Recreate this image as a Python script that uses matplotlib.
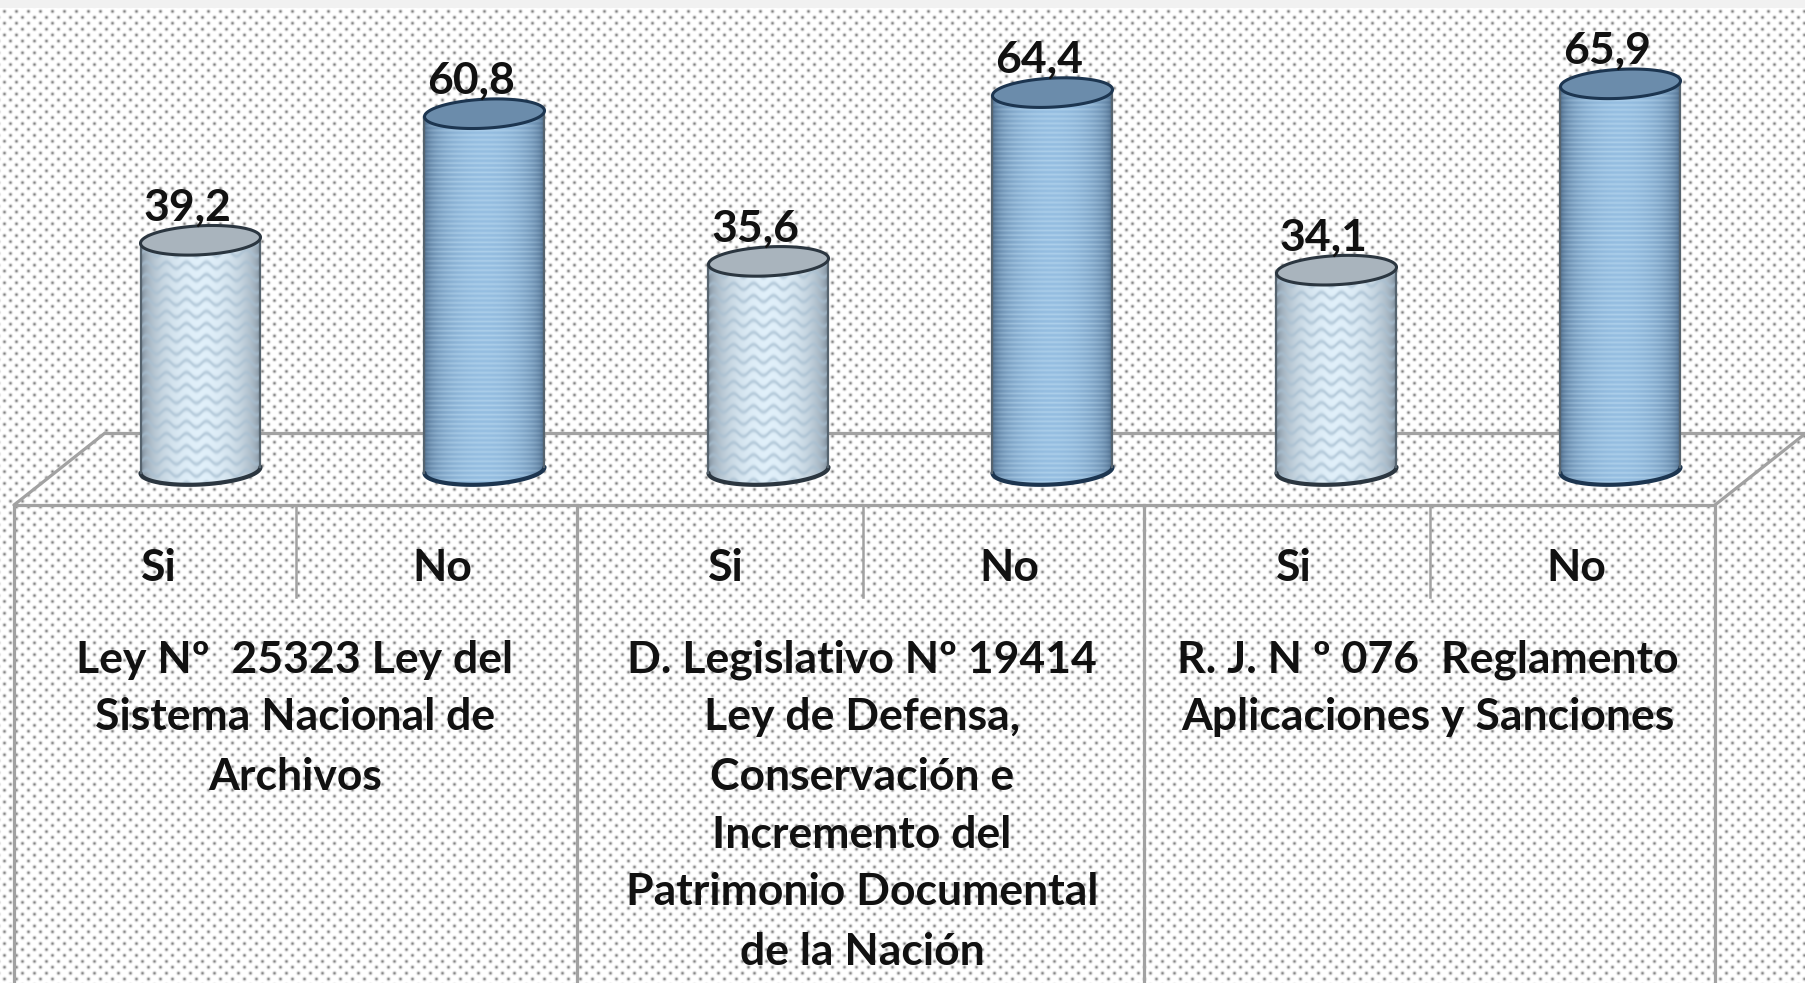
import numpy as np
import matplotlib
matplotlib.use("Agg")
import matplotlib.pyplot as plt
from matplotlib.patches import Polygon, PathPatch
from matplotlib.path import Path

WIDTH, HEIGHT = 1806, 983

categories = ["Si", "No", "Si", "No", "Si", "No"]
values = [39.2, 60.8, 35.6, 64.4, 34.1, 65.9]
value_labels = ["39,2", "60,8", "35,6", "64,4", "34,1", "65,9"]
group_labels = [
    ["Ley Nº  25323 Ley del", "Sistema Nacional de", "Archivos"],
    ["D. Legislativo Nº 19414", "Ley de Defensa,", "Conservación e", "Incremento del",
     "Patrimonio Documental", "de la Nación"],
    ["R. J. N º 076  Reglamento", "Aplicaciones y Sanciones"],
]

# pixel layout of the value scale
X0, X_STEP = 200.5, 284.0
Y0, Y_SCALE = 470.0, 5.86
HALF_W, HALF_H = 60.0, 14.5
TILT = 3.0
GRID = "#a2a2a2"
FONT = "Lato"
TEXT_SIZE = 32


def to_x(px):
    return (px - X0) / X_STEP


def to_val(py):
    return (Y0 - py) / Y_SCALE


def dotted_background():
    yy, xx = np.mgrid[0:HEIGHT, 0:WIDTH]
    img = np.ones((HEIGHT, WIDTH))
    for ox, oy in [(4.0, 11.0), (10.0, 17.0)]:
        dx = (xx - ox + 6) % 12 - 6
        dy = (yy - oy + 6) % 11.8 - 5.9
        img -= 0.48 * np.exp(-(dx ** 2 + dy ** 2) / 2.6)
    img[:8, :] = 0.945
    return img


def cylinder_texture(kind, w, h):
    yy, xx = np.mgrid[0:h, 0:w]
    u = (xx + 0.5) / w * 2 - 1
    shade = np.sqrt(np.clip(1 - u ** 2, 0, 1)) ** 0.9
    if kind == "Si":
        edge = np.array([0.40, 0.46, 0.52])
        mid = np.array([0.88, 0.94, 0.98])
        line = np.array([0.66, 0.75, 0.82])
        phase = (yy + 3.0 * np.sin(xx / 20 * 2 * np.pi)) % 12
        mask = np.exp(-((phase - 6) ** 2) / 5.0) * 0.7
    else:
        edge = np.array([0.24, 0.35, 0.47])
        mid = np.array([0.58, 0.74, 0.88])
        line = np.array([0.78, 0.89, 0.96])
        phase = yy % 4.6
        mask = np.exp(-((phase - 2.3) ** 2) / 1.1) * 0.5 * shade
    rgb = edge[None, None, :] + (mid - edge)[None, None, :] * shade[..., None]
    rgb = rgb + (line - rgb) * mask[..., None]
    return np.clip(rgb, 0, 1)


def draw_cylinder(ax, idx, value, kind):
    hw = HALF_W / X_STEP
    hh = HALF_H / Y_SCALE
    tilt = TILT / Y_SCALE
    t = np.linspace(np.pi, 2 * np.pi, 60)
    low_x = idx + hw * np.cos(t)
    low_y = hh * np.sin(t) + tilt * np.cos(t)
    up_x = low_x[::-1]
    up_y = value - hh * np.sin(t[::-1]) + tilt * np.cos(t[::-1])
    pts = np.column_stack([np.r_[low_x, up_x], np.r_[low_y, up_y]])
    side = PathPatch(Path(np.vstack([pts, pts[:1]]), closed=True), fc="none", ec="none",
                     transform=ax.transData, zorder=3)
    ax.add_patch(side)
    h_px = int((value + 2 * hh) * Y_SCALE) + 2
    im = ax.imshow(cylinder_texture(kind, int(2 * HALF_W), h_px), origin="upper", aspect="auto",
                   extent=(idx - hw, idx + hw, -hh - tilt, value + hh + tilt), zorder=3,
                   interpolation="bilinear")
    im.set_clip_path(side)

    dark = "#2b3640" if kind == "Si" else "#1c3550"
    cap = "#a9b4bd" if kind == "Si" else "#6b8cab"
    ax.plot(low_x, low_y, color=dark, lw=3.0, zorder=4, solid_capstyle="round")
    ax.plot([idx - hw, idx - hw], [-tilt, value - tilt], color="#56646f", lw=1.6, zorder=4)
    ax.plot([idx + hw, idx + hw], [tilt, value + tilt], color="#56646f", lw=1.6, zorder=4)
    t_full = np.linspace(0, 2 * np.pi, 120)
    ring = np.column_stack([idx + hw * np.cos(t_full),
                            value + hh * np.sin(t_full) + tilt * np.cos(t_full)])
    ax.add_patch(Polygon(ring, closed=True, fc=cap, ec=dark, lw=2.2, zorder=5))


fig = plt.figure(figsize=(WIDTH / 100, HEIGHT / 100), dpi=100)

# background and floor/table lines, in pixels
bg = fig.add_axes([0, 0, 1, 1])
bg.imshow(dotted_background(), cmap="gray", vmin=0, vmax=1, extent=(0, WIDTH, HEIGHT, 0),
          aspect="auto", interpolation="bilinear")
bg.set_xlim(0, WIDTH)
bg.set_ylim(HEIGHT, 0)
bg.axis("off")

floor_lines = [
    ([14, 105], [505, 433]),
    ([105, 1806], [433, 433]),
    ([14, 1715], [505, 505]),
    ([1715, 1806], [505, 433]),
]
for xs, ys in floor_lines:
    bg.plot(xs, ys, color=GRID, lw=2.3, solid_capstyle="round")
for x in [14, 577, 1144, 1715]:
    bg.plot([x, x], [505, HEIGHT], color=GRID, lw=2.3)
for x in [296, 863, 1430]:
    bg.plot([x, x], [505, 597], color=GRID, lw=1.8)

# bars on the value scale
ax = fig.add_axes([0, 0, 1, 1])
ax.patch.set_alpha(0)
for i, (cat, val) in enumerate(zip(categories, values)):
    draw_cylinder(ax, i, val, cat)
    ax.text(i - 13 / X_STEP, val + 33 / Y_SCALE, value_labels[i], ha="center", va="center",
            fontsize=TEXT_SIZE, fontweight="bold", family=FONT, color="#111111", zorder=6)
ax.set_xlim(to_x(0), to_x(WIDTH))
ax.set_ylim(to_val(HEIGHT), to_val(0))
ax.axis("off")

# category and group labels
for x, cat in zip([159, 442, 726, 1009, 1294, 1576], categories):
    bg.text(x, 568, cat, ha="center", va="center", fontsize=TEXT_SIZE, fontweight="bold",
            family=FONT, color="#111111")
line_y = [660, 717, 777, 835, 892, 952]
for x, lines in zip([295, 862, 1428], group_labels):
    for y, line in zip(line_y, lines):
        bg.text(x, y, line, ha="center", va="center", fontsize=TEXT_SIZE, fontweight="bold",
                family=FONT, color="#111111")

fig.savefig("out.png", dpi=100)
plt.close(fig)
